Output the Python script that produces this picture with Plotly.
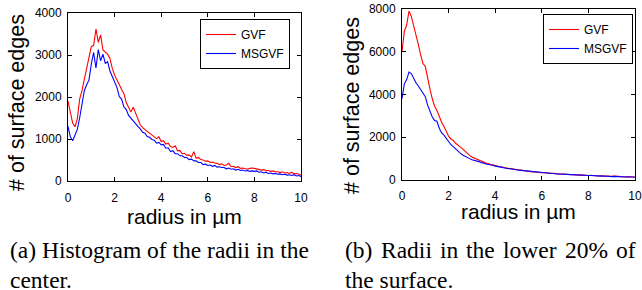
import plotly.graph_objects as go

radius = [round(i * 0.1, 1) for i in range(101)]

center_gvf = [1900, 1600, 1380, 1290, 1480, 1950, 2150, 2420, 2680, 2950,
              3200, 3230, 3620, 3300, 3480, 3120, 3080, 3020, 2920, 2680,
              2520, 2420, 2300, 2180, 2080, 1870, 1760, 1640, 1760, 1620,
              1460, 1340, 1270, 1230, 1190, 1140, 1110, 1060, 1010, 1050,
              940, 960, 880, 900, 820, 800, 840, 720, 730, 650,
              660, 610, 620, 570, 700, 540, 560, 510, 500, 470,
              480, 440, 450, 430, 420, 390, 410, 370, 380, 420,
              340, 350, 320, 340, 300, 310, 290, 280, 300, 310,
              300, 290, 280, 260, 270, 250, 250, 230, 240, 220,
              220, 200, 220, 190, 200, 180, 210, 170, 180, 160, 150]

center_msgvf = [1300, 1050, 960, 1120, 1230, 1500, 1850, 2150, 2290, 2400,
                2780, 3060, 2690, 3130, 2860, 3020, 2800, 2840, 2620, 2480,
                2340, 2230, 2010, 1950, 1760, 1700, 1560, 1490, 1440, 1350,
                1300, 1240, 1160, 1140, 1060, 1040, 990, 970, 900, 920,
                860, 870, 780, 790, 700, 720, 650, 650, 600, 600,
                560, 560, 510, 520, 480, 480, 440, 440, 390, 400,
                370, 380, 350, 370, 330, 340, 320, 320, 290, 310,
                280, 290, 260, 280, 250, 260, 240, 250, 230, 240,
                230, 240, 210, 220, 190, 210, 180, 190, 170, 180,
                160, 170, 150, 160, 140, 150, 130, 150, 120, 130, 110]

lower_gvf = [6000, 6950, 7250, 7900, 7650, 7250, 6800, 6350, 5850, 5450,
             5320, 4700, 4250, 3800, 3450, 3250, 2920, 2700, 2500, 2250,
             2050, 1920, 1850, 1720, 1650, 1550, 1460, 1350, 1250, 1150,
             1080, 1030, 960, 930, 870, 840, 790, 770, 720, 710,
             670, 660, 620, 610, 580, 570, 540, 530, 500, 490,
             470, 460, 440, 430, 410, 410, 380, 380, 360, 360,
             340, 340, 320, 330, 310, 310, 290, 300, 280, 280,
             270, 270, 260, 260, 240, 250, 230, 240, 220, 230,
             210, 220, 200, 210, 190, 200, 190, 190, 180, 180,
             170, 180, 160, 170, 160, 160, 150, 160, 140, 150, 140]

lower_msgvf = [3800, 4500, 4700, 5050, 4980, 4750, 4550, 4400, 4220, 4100,
               3900, 3500, 3200, 2950, 2780, 2750, 2420, 2200, 2100, 1950,
               1800, 1650, 1560, 1450, 1350, 1260, 1170, 1100, 1050, 1000,
               950, 930, 880, 860, 810, 800, 750, 740, 700, 690,
               650, 640, 600, 590, 560, 550, 520, 510, 490, 480,
               460, 450, 430, 420, 400, 400, 370, 370, 350, 350,
               330, 330, 320, 320, 300, 300, 290, 290, 270, 280,
               260, 260, 250, 250, 240, 240, 230, 230, 220, 220,
               210, 210, 200, 200, 190, 190, 180, 190, 170, 180,
               160, 170, 160, 160, 150, 150, 140, 150, 140, 140, 130]

x_ticks = [0, 2, 4, 6, 8, 10]
left_y_ticks = [0, 1000, 2000, 3000, 4000]
right_y_ticks = [0, 2000, 4000, 6000, 8000]

W, H = 642, 290
SANS = "Liberation Sans, Arial, sans-serif"
SERIF = "Liberation Serif, Times New Roman, serif"

def px_x(p):
    return p / W

def px_y(p):
    return 1 - p / H

fig = go.Figure()
fig.add_trace(go.Scatter(x=radius, y=center_gvf, name="GVF", mode="lines",
                         line=dict(color="#ff0000", width=1.1), xaxis="x", yaxis="y", legend="legend"))
fig.add_trace(go.Scatter(x=radius, y=center_msgvf, name="MSGVF", mode="lines",
                         line=dict(color="#0000ff", width=1.1), xaxis="x", yaxis="y", legend="legend"))
fig.add_trace(go.Scatter(x=radius, y=lower_gvf, name="GVF", mode="lines",
                         line=dict(color="#ff0000", width=1.1), xaxis="x2", yaxis="y2", legend="legend2"))
fig.add_trace(go.Scatter(x=radius, y=lower_msgvf, name="MSGVF", mode="lines",
                         line=dict(color="#0000ff", width=1.1), xaxis="x2", yaxis="y2", legend="legend2"))

axis_common = dict(showline=True, linecolor="black", linewidth=1, mirror="allticks",
                   ticks="inside", ticklen=4, tickcolor="black", showgrid=False,
                   zeroline=False, automargin=False,
                   tickfont=dict(family=SANS, size=12, color="black"))

fig.update_layout(
    template="none",
    width=W, height=H, margin=dict(l=0, r=0, t=0, b=0, autoexpand=False),
    paper_bgcolor="white", plot_bgcolor="white",
    xaxis=dict(domain=[px_x(68), px_x(301)], range=[0, 10], tickvals=x_ticks,
               anchor="y", ticklabelstandoff=6, **axis_common),
    yaxis=dict(domain=[px_y(181), px_y(13)], range=[0, 4000], tickvals=left_y_ticks,
               anchor="x", ticklabelstandoff=3, **axis_common),
    xaxis2=dict(domain=[px_x(402), px_x(635)], range=[0, 10], tickvals=x_ticks,
                anchor="y2", ticklabelstandoff=5, **axis_common),
    yaxis2=dict(domain=[px_y(180), px_y(9)], range=[0, 8000], tickvals=right_y_ticks,
                anchor="x2", ticklabelstandoff=3, **axis_common),
    legend=dict(x=px_x(290), y=px_y(19), xanchor="right", yanchor="top",
                bordercolor="black", borderwidth=1, bgcolor="white",
                font=dict(family=SANS, size=12, color="black"), tracegroupgap=0),
    legend2=dict(x=px_x(633), y=px_y(14), xanchor="right", yanchor="top",
                 bordercolor="black", borderwidth=1, bgcolor="white",
                 font=dict(family=SANS, size=12, color="black"), tracegroupgap=0),
)

def ann(text, x, y, size, family, xanchor="center", yanchor="middle", angle=0):
    fig.add_annotation(text=text, x=px_x(x), y=px_y(y), xref="paper", yref="paper",
                       xanchor=xanchor, yanchor=yanchor, showarrow=False, textangle=angle,
                       font=dict(family=family, size=size, color="black"))

# axis titles
ann("radius in µm", 184.5, 216, 21, SANS)
ann("radius in µm", 518.5, 211, 21, SANS)
ann("# of surface edges", 17, 103, 21.5, SANS, angle=-90)
ann("# of surface edges", 352, 105, 21.5, SANS, angle=-90)

# captions
ann("(a) Histogram of the radii in the", 8, 250, 23.5, SERIF, xanchor="left")
ann("center.", 8, 280, 23.5, SERIF, xanchor="left")
words_b = ["(b)", "Radii", "in", "the", "lower", "20%", "of"]
words_b_x = [343, 378.7, 437.8, 464.4, 501.3, 563.1, 614.4]
for w, xw in zip(words_b, words_b_x):
    ann(w, xw, 250, 23.5, SERIF, xanchor="left")
ann("the surface.", 343, 280, 23.5, SERIF, xanchor="left")

fig.write_html("out.html", config={"displayModeBar": False},
               post_script="document.body.style.margin='0';document.body.style.overflow='hidden';")
